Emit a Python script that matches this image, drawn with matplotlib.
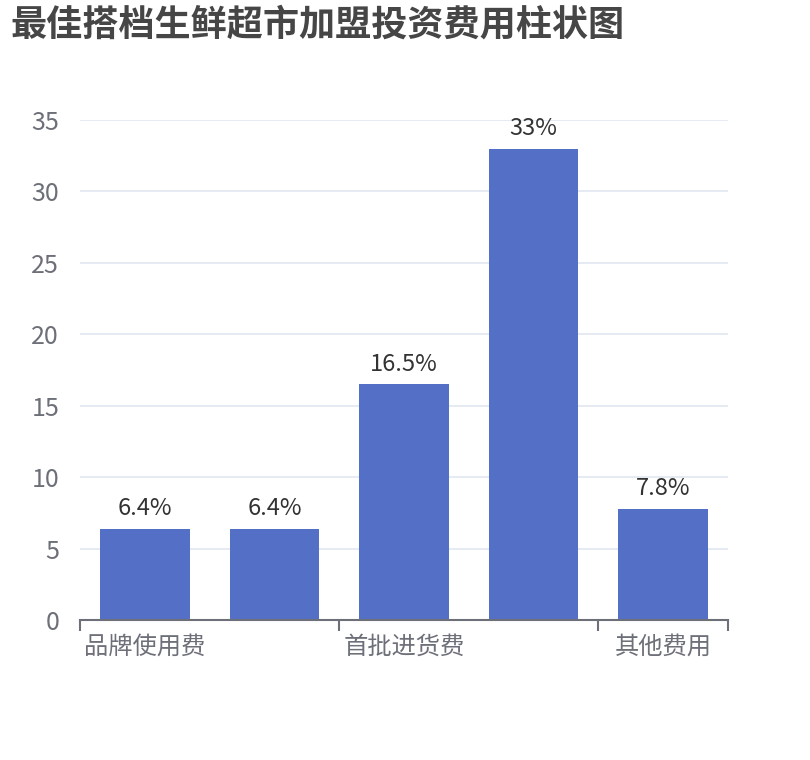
import matplotlib
matplotlib.use("Agg")
import matplotlib.pyplot as plt
import numpy as np

plt.rcParams['font.family'] = ['Noto Sans CJK SC', 'DejaVu Sans']

# data
categories = ["品牌使用费", "加盟保证金", "首批进货费", "店面装修费", "其他费用"]
values = [6.4, 6.4, 16.5, 33, 7.8]
bar_labels = ["6.4%", "6.4%", "16.5%", "33%", "7.8%"]
y_ticks = [0, 5, 10, 15, 20, 25, 30, 35]
title = "最佳搭档生鲜超市加盟投资费用柱状图"

W, H = 810, 760
fig = plt.figure(figsize=(W / 100, H / 100), dpi=100)
ax = fig.add_axes([80 / W, (H - 620) / H, (728 - 80) / W, 500 / H])

x = np.arange(len(categories))
ax.bar(x, values, width=0.69, color="#5470c6", zorder=2)

for xi, v, lab in zip(x, values, bar_labels):
    ax.annotate(lab, (xi, v), xytext=(0, 6), textcoords="offset points",
                ha="center", va="bottom", fontsize=17, color="#333333")

ax.set_xlim(-0.5, len(categories) - 0.5)
ax.set_ylim(0, 35)
ax.set_yticks(y_ticks)
ax.set_yticklabels([str(t) for t in y_ticks])
for t in y_ticks[1:]:
    ax.axhline(t, color="#E0E6F1", lw=1.2, zorder=1)

# category labels every other one, ticks on category boundaries
ax.set_xticks(x[::2])
ax.set_xticklabels(categories[::2])
ax.tick_params(axis="x", length=0, pad=10, labelsize=17.5, labelcolor="#6E7079")
ax.set_xticks([-0.5, 1.5, 3.5, 4.5], minor=True)
ax.tick_params(axis="x", which="minor", length=8, width=1.5, color="#6E7079",
               direction="out")
ax.tick_params(axis="y", length=0, pad=15, labelsize=18, labelcolor="#6E7079")

for s in ["top", "right", "left"]:
    ax.spines[s].set_visible(False)
ax.spines["bottom"].set_color("#6E7079")
ax.spines["bottom"].set_linewidth(1.5)
ax.spines["bottom"].set_zorder(3)

fig.text(10 / W, 1 - 7 / H, title, ha="left", va="top", fontsize=26,
         fontweight="bold", color="#464646")

fig.savefig("out.png", dpi=100)
